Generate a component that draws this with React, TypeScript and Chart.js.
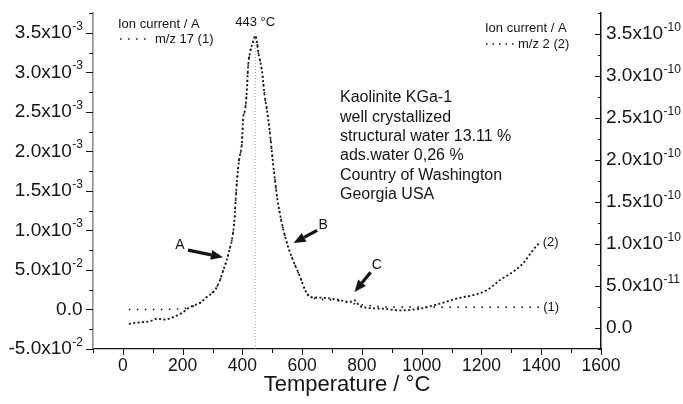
import { useEffect, useRef } from 'react';
import { Chart, registerables } from 'chart.js';

Chart.register(...registerables);

const FONT = '"Liberation Sans", Arial, Helvetica, sans-serif';
const INK = '#141414';

// m/z 17 ion current (left axis, units of 10^-3 A) vs temperature (°C)
const tempMz17 = [20, 100, 200, 225, 258, 281, 308, 325, 338, 348, 358, 365, 372, 375, 378, 382, 389, 399, 402, 409, 415, 419, 425, 435, 443, 449, 452, 465, 475, 482, 492, 499, 509, 516, 532, 549, 569, 593, 610, 627, 700, 800, 900, 1000, 1100, 1200, 1300, 1400];
const mz17 = [0.0, 0.0, 0.01, 0.03, 0.08, 0.16, 0.25, 0.37, 0.52, 0.63, 0.78, 0.88, 1.07, 1.22, 1.42, 1.64, 1.89, 2.14, 2.4, 2.52, 2.78, 3.07, 3.24, 3.38, 3.46, 3.38, 3.28, 3.03, 2.69, 2.52, 2.23, 1.98, 1.64, 1.42, 1.09, 0.84, 0.63, 0.41, 0.25, 0.16, 0.12, 0.06, 0.03, 0.03, 0.03, 0.03, 0.03, 0.03];

// m/z 2 ion current (right axis, units of 10^-10 A) vs temperature (°C)
const tempMz2 = [20, 40, 67, 91, 114, 141, 168, 198, 225, 258, 281, 308, 325, 338, 348, 358, 365, 372, 375, 378, 382, 389, 399, 402, 409, 415, 419, 425, 435, 443, 449, 452, 465, 475, 482, 492, 499, 509, 516, 532, 549, 569, 593, 610, 627, 670, 727, 760, 776, 790, 817, 871, 927, 994, 1061, 1128, 1172, 1218, 1262, 1306, 1339, 1373, 1395];
const mz2 = [0.05, 0.06, 0.07, 0.08, 0.11, 0.1, 0.13, 0.18, 0.25, 0.3, 0.37, 0.45, 0.57, 0.71, 0.81, 0.95, 1.05, 1.23, 1.37, 1.56, 1.76, 2.0, 2.24, 2.48, 2.6, 2.83, 3.11, 3.27, 3.4, 3.48, 3.4, 3.31, 3.07, 2.75, 2.6, 2.32, 2.08, 1.76, 1.56, 1.25, 1.01, 0.81, 0.61, 0.45, 0.37, 0.36, 0.33, 0.31, 0.33, 0.27, 0.24, 0.23, 0.21, 0.23, 0.29, 0.36, 0.39, 0.45, 0.57, 0.67, 0.77, 0.93, 1.02];

const peakTemp = 443;
const peakMarkerRange = [-0.5, 3.51];

// Axis tick labels ("^" separates the exponent)
const tempTicks = [0, 200, 400, 600, 800, 1000, 1200, 1400, 1600];
const leftTickValues = [-0.5, 0, 0.5, 1.0, 1.5, 2.0, 2.5, 3.0, 3.5];
const leftTickLabels = ['-5.0x10^-2', '0.0', '5.0x10^-2', '1.0x10^-3', '1.5x10^-3', '2.0x10^-3', '2.5x10^-3', '3.0x10^-3', '3.5x10^-3'];
const rightTickValues = [0, 0.5, 1.0, 1.5, 2.0, 2.5, 3.0, 3.5];
const rightTickLabels = ['0.0', '5.0x10^-11', '1.0x10^-10', '1.5x10^-10', '2.0x10^-10', '2.5x10^-10', '3.0x10^-10', '3.5x10^-10'];

const sampleInfo = ['Kaolinite KGa-1', 'well crystallized', 'structural water 13.11 %', 'ads.water 0,26 %', 'Country of Washington', 'Georgia USA'];

// Arrow callouts in data coordinates (temperature, left-axis value)
const callouts = [
  { text: 'A', label: [191, 0.82], from: [218, 0.75], to: [335, 0.66] },
  { text: 'B', label: [670, 1.07], from: [650, 1.0], to: [571, 0.84] },
  { text: 'C', label: [850, 0.56], from: [829, 0.47], to: [775, 0.22] },
];

const DASH_17 = [1.5, 6.5];
const DASH_2 = [2, 2.4];

function drawSci(ctx: CanvasRenderingContext2D, label: string, x: number, y: number, align: 'left' | 'right') {
  const [mant, exp] = label.split('^');
  ctx.font = `19px ${FONT}`;
  const wm = ctx.measureText(mant).width;
  ctx.font = `12px ${FONT}`;
  const we = exp ? ctx.measureText(exp).width : 0;
  const start = align === 'right' ? x - wm - we - 0.5 : x;
  ctx.textAlign = 'left';
  ctx.textBaseline = 'middle';
  ctx.font = `19px ${FONT}`;
  ctx.fillText(mant, start, y);
  if (exp) {
    ctx.font = `12px ${FONT}`;
    ctx.fillText(exp, start + wm + 0.5, y - 6.5);
  }
}

function drawArrow(ctx: CanvasRenderingContext2D, x0: number, y0: number, x1: number, y1: number) {
  const ang = Math.atan2(y1 - y0, x1 - x0);
  const head = 12;
  const half = 5;
  const bx = x1 - head * Math.cos(ang);
  const by = y1 - head * Math.sin(ang);
  ctx.lineWidth = 3.2;
  ctx.setLineDash([]);
  ctx.beginPath();
  ctx.moveTo(x0, y0);
  ctx.lineTo(bx, by);
  ctx.stroke();
  ctx.beginPath();
  ctx.moveTo(x1, y1);
  ctx.lineTo(bx + half * Math.sin(ang), by - half * Math.cos(ang));
  ctx.lineTo(bx - half * Math.sin(ang), by + half * Math.cos(ang));
  ctx.closePath();
  ctx.fill();
}

const decorations = {
  id: 'decorations',
  afterDraw(chart: any) {
    const ctx: CanvasRenderingContext2D = chart.ctx;
    const xs = chart.scales.x;
    const yl = chart.scales.yL;
    const yr = chart.scales.yR;
    const area = chart.chartArea;
    ctx.save();
    ctx.strokeStyle = INK;
    ctx.fillStyle = INK;
    ctx.lineWidth = 1;
    ctx.setLineDash([]);

    // tick marks
    ctx.beginPath();
    for (let v = -100; v <= 1600; v += 100) {
      const px = Math.round(xs.getPixelForValue(v)) + 0.5;
      const len = v % 200 === 0 ? 6 : 4;
      ctx.moveTo(px, area.bottom);
      ctx.lineTo(px, area.bottom + len);
    }
    for (let v = -0.5; v <= 3.76; v += 0.25) {
      const py = Math.round(yl.getPixelForValue(v)) + 0.5;
      const major = Math.abs(v * 2 - Math.round(v * 2)) < 1e-6;
      ctx.moveTo(area.left, py);
      ctx.lineTo(area.left - (major ? 7 : 4), py);
    }
    for (let v = -0.25; v <= 3.76; v += 0.25) {
      const py = Math.round(yr.getPixelForValue(v)) + 0.5;
      const major = Math.abs(v * 2 - Math.round(v * 2)) < 1e-6;
      ctx.moveTo(area.right, py);
      ctx.lineTo(area.right - (major ? 6 : 3), py);
    }
    ctx.stroke();

    // y tick labels
    leftTickValues.forEach((v, i) => drawSci(ctx, leftTickLabels[i], 83, yl.getPixelForValue(v), 'right'));
    rightTickValues.forEach((v, i) => drawSci(ctx, rightTickLabels[i], 606, yr.getPixelForValue(v), 'left'));

    // legends
    ctx.font = `13px ${FONT}`;
    ctx.textBaseline = 'middle';
    ctx.textAlign = 'left';
    ctx.fillText('Ion current / A', 118, 24);
    ctx.fillText('m/z 17 (1)', 155, 39);
    ctx.fillText('Ion current / A', 485, 28);
    ctx.fillText('m/z 2 (2)', 518, 44);
    ctx.lineWidth = 1.5;
    ctx.setLineDash(DASH_17);
    ctx.beginPath();
    ctx.moveTo(120, 39);
    ctx.lineTo(150, 39);
    ctx.stroke();
    ctx.setLineDash([1.5, 5]);
    ctx.beginPath();
    ctx.moveTo(486, 44);
    ctx.lineTo(515, 44);
    ctx.stroke();
    ctx.setLineDash([]);

    // peak temperature
    ctx.textAlign = 'center';
    ctx.fillText(`${peakTemp} °C`, xs.getPixelForValue(peakTemp), 22);

    // series end labels
    ctx.textAlign = 'left';
    const n17 = tempMz17.length - 1;
    ctx.fillText('(1)', xs.getPixelForValue(tempMz17[n17]) + 2, yl.getPixelForValue(mz17[n17]));
    const n2 = tempMz2.length - 1;
    ctx.fillText('(2)', xs.getPixelForValue(tempMz2[n2]) + 3, yr.getPixelForValue(mz2[n2]));

    // sample description
    ctx.font = `16px ${FONT}`;
    sampleInfo.forEach((line, i) => ctx.fillText(line, 340, 98 + i * 19.3));

    // callouts
    ctx.font = `14px ${FONT}`;
    ctx.textAlign = 'center';
    callouts.forEach((c) => {
      ctx.fillText(c.text, xs.getPixelForValue(c.label[0]), yl.getPixelForValue(c.label[1]));
      drawArrow(
        ctx,
        xs.getPixelForValue(c.from[0]),
        yl.getPixelForValue(c.from[1]),
        xs.getPixelForValue(c.to[0]),
        yl.getPixelForValue(c.to[1])
      );
    });

    ctx.restore();
  },
};

export default function App() {
  const canvasRef = useRef<HTMLCanvasElement | null>(null);

  useEffect(() => {
    if (!canvasRef.current) return;
    const chart = new Chart(canvasRef.current, {
      type: 'scatter',
      data: {
        datasets: [
          {
            label: 'm/z 2 (2)',
            data: tempMz2.map((t, i) => ({ x: t, y: mz2[i] })),
            yAxisID: 'yR',
            showLine: true,
            borderColor: INK,
            borderWidth: 1.8,
            borderDash: DASH_2,
            pointRadius: 0,
            cubicInterpolationMode: 'monotone',
            order: 1,
          },
          {
            label: 'm/z 17 (1)',
            data: tempMz17.map((t, i) => ({ x: t, y: mz17[i] })),
            yAxisID: 'yL',
            showLine: true,
            borderColor: INK,
            borderWidth: 1.6,
            borderDash: DASH_17,
            pointRadius: 0,
            cubicInterpolationMode: 'monotone',
            order: 2,
          },
          {
            label: 'peak',
            data: peakMarkerRange.map((v) => ({ x: peakTemp, y: v })),
            yAxisID: 'yL',
            showLine: true,
            borderColor: '#9a9a9a',
            borderWidth: 1,
            borderDash: [1, 2],
            pointRadius: 0,
            order: 3,
          },
        ],
      },
      options: {
        animation: false,
        responsive: true,
        maintainAspectRatio: false,
        layout: { padding: { top: 13, left: 0, right: 0, bottom: 0 } },
        plugins: { legend: { display: false }, tooltip: { enabled: false } },
        scales: {
          x: {
            type: 'linear',
            min: -100,
            max: 1600,
            afterBuildTicks: (s: any) => {
              s.ticks = tempTicks.map((v) => ({ value: v }));
            },
            ticks: {
              autoSkip: false,
              maxRotation: 0,
              padding: 7,
              color: INK,
              font: { family: FONT, size: 17.5 },
              callback: (v: any) => String(v),
            },
            grid: { display: false, drawTicks: false },
            border: { display: true, color: INK, width: 1.2 },
            title: {
              display: true,
              text: 'Temperature / °C',
              color: INK,
              font: { family: FONT, size: 22 },
              padding: { top: 0, bottom: 6 },
            },
            afterFit: (s: any) => {
              s.height = 55;
            },
          },
          yL: {
            type: 'linear',
            position: 'left',
            min: -0.5,
            max: 3.75,
            ticks: { display: false },
            grid: { display: false, drawTicks: false },
            border: { display: true, color: '#8f8f8f', width: 1.6 },
            afterFit: (s: any) => {
              s.width = 93;
            },
          },
          yR: {
            type: 'linear',
            position: 'right',
            min: -0.25,
            max: 3.75,
            ticks: { display: false },
            grid: { display: false, drawTicks: false },
            border: { display: true, color: INK, width: 1.5 },
            afterFit: (s: any) => {
              s.width = 82;
            },
          },
        },
      },
      plugins: [decorations],
    } as any);
    return () => chart.destroy();
  }, []);

  return (
    <div style={{ position: 'absolute', left: 0, top: 0, width: 683, height: 404, background: '#fff' }}>
      <canvas ref={canvasRef} />
    </div>
  );
}
